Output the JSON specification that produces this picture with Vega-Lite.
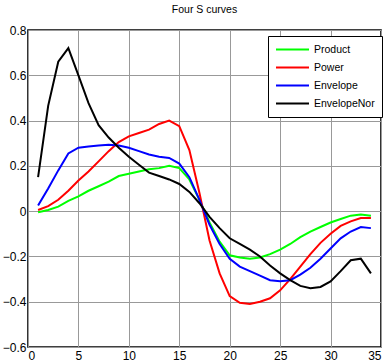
{
  "$schema": "https://vega.github.io/schema/vega-lite/v6.json",
  "width": 353,
  "height": 317,
  "autosize": "none",
  "padding": {"left": 28, "top": 30, "right": 5, "bottom": 17},
  "background": "white",
  "title": {"text": "Four S curves", "fontSize": 10.5, "fontWeight": "normal", "font": "Liberation Sans", "color": "#000", "offset": 9},
  "config": {
    "view": {"stroke": "#000", "strokeWidth": 1.6},
    "axis": {"labelFont": "Liberation Sans", "labelFontSize": 12, "labelColor": "#000", "grid": true, "gridColor": "#999", "gridWidth": 1, "domain": false, "ticks": false, "title": null},
    "axisX": {"labelPadding": 3},
    "axisY": {"labelPadding": 2},
    "legend": {"orient": "none", "legendX": 240, "legendY": 6, "strokeColor": "#000", "fillColor": "white", "padding": 7, "symbolType": "stroke", "symbolSize": 1089, "symbolStrokeWidth": 2, "labelFont": "Liberation Sans", "labelFontSize": 10.5, "labelColor": "#000", "rowPadding": 5, "labelOffset": 4, "clipHeight": 13}
  },
  "data": {"values": [
    {"s":"Product","x":1,"y":-0.005},{"s":"Product","x":2,"y":0.005},{"s":"Product","x":3,"y":0.02},{"s":"Product","x":4,"y":0.045},{"s":"Product","x":5,"y":0.065},{"s":"Product","x":6,"y":0.09},{"s":"Product","x":7,"y":0.11},{"s":"Product","x":8,"y":0.13},{"s":"Product","x":9,"y":0.155},{"s":"Product","x":10,"y":0.165},{"s":"Product","x":11,"y":0.175},{"s":"Product","x":12,"y":0.185},{"s":"Product","x":13,"y":0.19},{"s":"Product","x":14,"y":0.2},{"s":"Product","x":15,"y":0.19},{"s":"Product","x":16,"y":0.14},{"s":"Product","x":17,"y":0.05},{"s":"Product","x":18,"y":-0.05},{"s":"Product","x":19,"y":-0.135},{"s":"Product","x":20,"y":-0.195},{"s":"Product","x":21,"y":-0.205},{"s":"Product","x":22,"y":-0.21},{"s":"Product","x":23,"y":-0.205},{"s":"Product","x":24,"y":-0.19},{"s":"Product","x":25,"y":-0.17},{"s":"Product","x":26,"y":-0.145},{"s":"Product","x":27,"y":-0.115},{"s":"Product","x":28,"y":-0.09},{"s":"Product","x":29,"y":-0.07},{"s":"Product","x":30,"y":-0.05},{"s":"Product","x":31,"y":-0.035},{"s":"Product","x":32,"y":-0.02},{"s":"Product","x":33,"y":-0.015},{"s":"Product","x":34,"y":-0.02},
    {"s":"Power","x":1,"y":0.005},{"s":"Power","x":2,"y":0.022},{"s":"Power","x":3,"y":0.05},{"s":"Power","x":4,"y":0.09},{"s":"Power","x":5,"y":0.135},{"s":"Power","x":6,"y":0.175},{"s":"Power","x":7,"y":0.22},{"s":"Power","x":8,"y":0.265},{"s":"Power","x":9,"y":0.305},{"s":"Power","x":10,"y":0.33},{"s":"Power","x":11,"y":0.345},{"s":"Power","x":12,"y":0.36},{"s":"Power","x":13,"y":0.385},{"s":"Power","x":14,"y":0.4},{"s":"Power","x":15,"y":0.375},{"s":"Power","x":16,"y":0.27},{"s":"Power","x":17,"y":0.08},{"s":"Power","x":18,"y":-0.13},{"s":"Power","x":19,"y":-0.275},{"s":"Power","x":20,"y":-0.375},{"s":"Power","x":21,"y":-0.405},{"s":"Power","x":22,"y":-0.41},{"s":"Power","x":23,"y":-0.4},{"s":"Power","x":24,"y":-0.385},{"s":"Power","x":25,"y":-0.35},{"s":"Power","x":26,"y":-0.3},{"s":"Power","x":27,"y":-0.245},{"s":"Power","x":28,"y":-0.19},{"s":"Power","x":29,"y":-0.14},{"s":"Power","x":30,"y":-0.1},{"s":"Power","x":31,"y":-0.065},{"s":"Power","x":32,"y":-0.045},{"s":"Power","x":33,"y":-0.03},{"s":"Power","x":34,"y":-0.03},
    {"s":"Envelope","x":1,"y":0.025},{"s":"Envelope","x":2,"y":0.1},{"s":"Envelope","x":3,"y":0.18},{"s":"Envelope","x":4,"y":0.255},{"s":"Envelope","x":5,"y":0.28},{"s":"Envelope","x":6,"y":0.285},{"s":"Envelope","x":7,"y":0.29},{"s":"Envelope","x":8,"y":0.293},{"s":"Envelope","x":9,"y":0.29},{"s":"Envelope","x":10,"y":0.28},{"s":"Envelope","x":11,"y":0.265},{"s":"Envelope","x":12,"y":0.25},{"s":"Envelope","x":13,"y":0.24},{"s":"Envelope","x":14,"y":0.235},{"s":"Envelope","x":15,"y":0.21},{"s":"Envelope","x":16,"y":0.15},{"s":"Envelope","x":17,"y":0.05},{"s":"Envelope","x":18,"y":-0.06},{"s":"Envelope","x":19,"y":-0.145},{"s":"Envelope","x":20,"y":-0.21},{"s":"Envelope","x":21,"y":-0.245},{"s":"Envelope","x":22,"y":-0.265},{"s":"Envelope","x":23,"y":-0.285},{"s":"Envelope","x":24,"y":-0.305},{"s":"Envelope","x":25,"y":-0.31},{"s":"Envelope","x":26,"y":-0.305},{"s":"Envelope","x":27,"y":-0.28},{"s":"Envelope","x":28,"y":-0.25},{"s":"Envelope","x":29,"y":-0.21},{"s":"Envelope","x":30,"y":-0.165},{"s":"Envelope","x":31,"y":-0.12},{"s":"Envelope","x":32,"y":-0.09},{"s":"Envelope","x":33,"y":-0.07},{"s":"Envelope","x":34,"y":-0.075},
    {"s":"EnvelopeNor","x":1,"y":0.15},{"s":"EnvelopeNor","x":2,"y":0.465},{"s":"EnvelopeNor","x":3,"y":0.66},{"s":"EnvelopeNor","x":4,"y":0.72},{"s":"EnvelopeNor","x":5,"y":0.6},{"s":"EnvelopeNor","x":6,"y":0.477},{"s":"EnvelopeNor","x":7,"y":0.38},{"s":"EnvelopeNor","x":8,"y":0.325},{"s":"EnvelopeNor","x":9,"y":0.28},{"s":"EnvelopeNor","x":10,"y":0.24},{"s":"EnvelopeNor","x":11,"y":0.205},{"s":"EnvelopeNor","x":12,"y":0.17},{"s":"EnvelopeNor","x":13,"y":0.155},{"s":"EnvelopeNor","x":14,"y":0.14},{"s":"EnvelopeNor","x":15,"y":0.12},{"s":"EnvelopeNor","x":16,"y":0.085},{"s":"EnvelopeNor","x":17,"y":0.035},{"s":"EnvelopeNor","x":18,"y":-0.025},{"s":"EnvelopeNor","x":19,"y":-0.075},{"s":"EnvelopeNor","x":20,"y":-0.12},{"s":"EnvelopeNor","x":21,"y":-0.145},{"s":"EnvelopeNor","x":22,"y":-0.17},{"s":"EnvelopeNor","x":23,"y":-0.2},{"s":"EnvelopeNor","x":24,"y":-0.24},{"s":"EnvelopeNor","x":25,"y":-0.275},{"s":"EnvelopeNor","x":26,"y":-0.305},{"s":"EnvelopeNor","x":27,"y":-0.33},{"s":"EnvelopeNor","x":28,"y":-0.34},{"s":"EnvelopeNor","x":29,"y":-0.335},{"s":"EnvelopeNor","x":30,"y":-0.31},{"s":"EnvelopeNor","x":31,"y":-0.265},{"s":"EnvelopeNor","x":32,"y":-0.217},{"s":"EnvelopeNor","x":33,"y":-0.21},{"s":"EnvelopeNor","x":34,"y":-0.275}
  ]},
  "mark": {"type": "line", "strokeWidth": 2, "clip": true},
  "encoding": {
    "x": {"field": "x", "type": "quantitative", "scale": {"domain": [0, 35], "nice": false, "zero": false}, "axis": {"values": [0, 5, 10, 15, 20, 25, 30, 35]}},
    "y": {"field": "y", "type": "quantitative", "scale": {"domain": [-0.6, 0.8], "nice": false}, "axis": {"values": [-0.6, -0.4, -0.2, 0, 0.2, 0.4, 0.6, 0.8], "format": "~g"}},
    "color": {"field": "s", "type": "nominal", "scale": {"domain": ["Product", "Power", "Envelope", "EnvelopeNor"], "range": ["#00ff00", "#ff0000", "#0000ff", "#000000"]}, "legend": {"title": null}},
    "order": {"field": "x", "type": "quantitative"}
  }
}
